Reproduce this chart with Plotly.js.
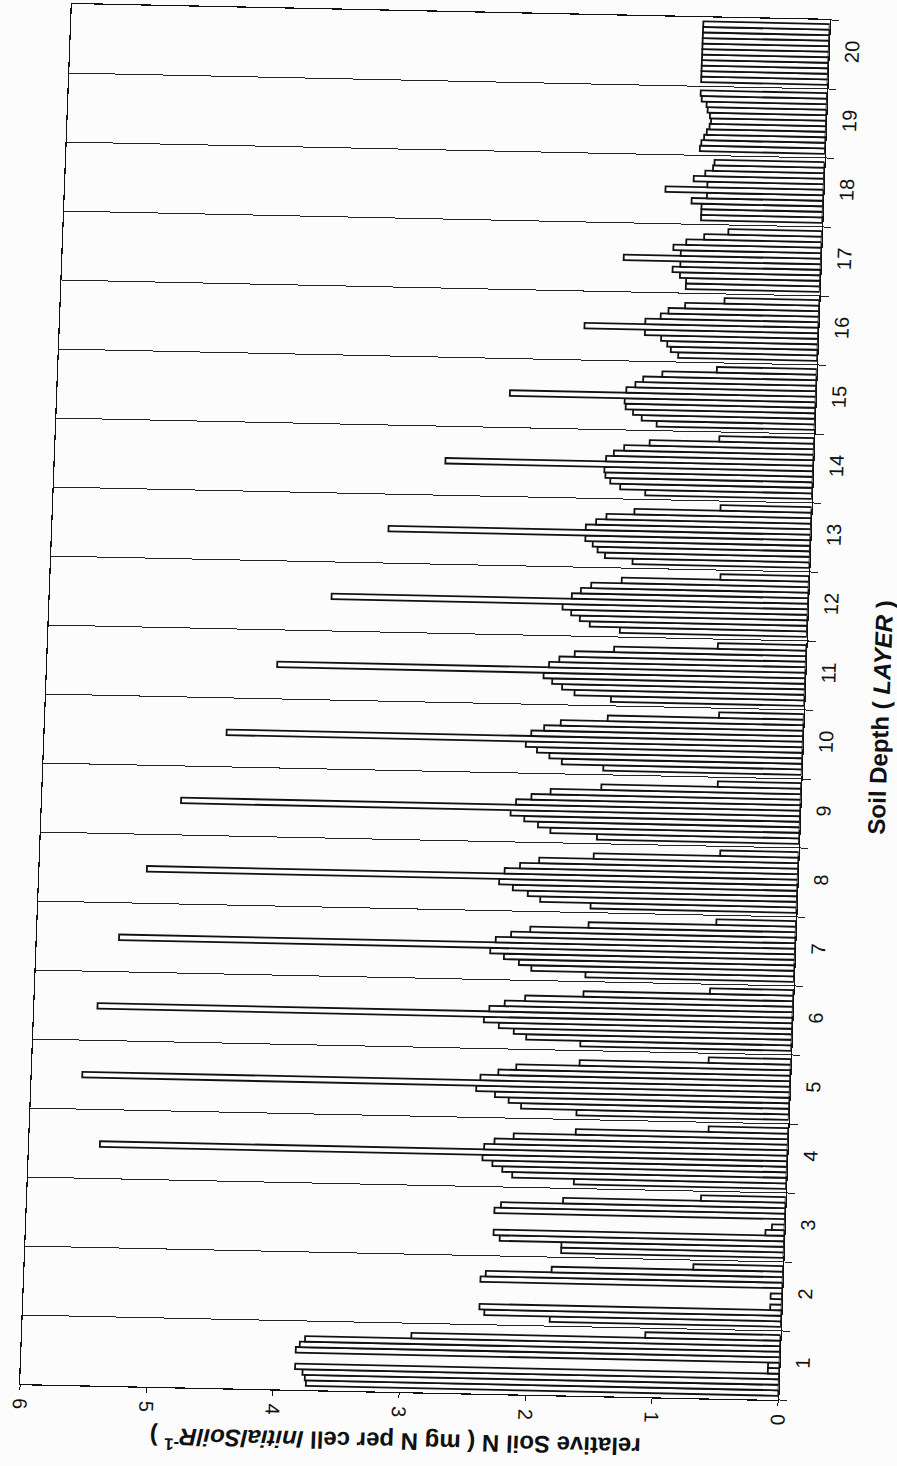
<!DOCTYPE html>
<html>
<head>
<meta charset="utf-8">
<script src="https://cdn.plot.ly/plotly-3.0.1.min.js"></script>
<style>
  html, body { margin: 0; padding: 0; background: #fcfcfc; overflow: hidden; }
  #chart { width: 897px; height: 1466px;
           transform-origin: 424.75px 702px;
           transform: matrix(1, 0.021, -0.0375, 1, 0, 0); }
</style>
</head>
<body>
<div id="chart"></div>
<script>
// Soil depth layers (category axis) and value ticks
const layers = [1, 2, 3, 4, 5, 6, 7, 8, 9, 10, 11, 12, 13, 14, 15, 16, 17, 18, 19, 20];
const valueTicks = [0, 1, 2, 3, 4, 5, 6];

// relative Soil N for the 11 cells of each layer (cell 1 drawn lowest, cell 11 highest)
const layer1  = [3.74, 3.75, 3.77, 3.83, 0.09, 0.09, 3.83, 3.80, 3.76, 2.92, 1.07];
const layer2  = [1.83, 2.35, 2.39, 0.09, 0.00, 0.09, 0.00, 2.39, 2.35, 1.83, 0.71];
const layer3  = [1.76, 1.76, 2.25, 2.30, 0.15, 0.10, 0.00, 2.30, 2.25, 1.76, 0.67];
const layer4  = [1.68, 2.17, 2.25, 2.33, 2.41, 5.44, 2.40, 2.32, 2.17, 1.68, 0.63];
const layer5  = [1.68, 2.12, 2.22, 2.33, 2.48, 5.60, 2.45, 2.31, 2.17, 1.67, 0.65];
const layer6  = [1.67, 2.10, 2.20, 2.32, 2.44, 5.50, 2.40, 2.28, 2.12, 1.66, 0.66];
const layer7  = [1.65, 2.08, 2.18, 2.30, 2.41, 5.35, 2.37, 2.25, 2.10, 1.64, 0.63];
const layer8  = [1.63, 2.03, 2.13, 2.25, 2.36, 5.15, 2.32, 2.20, 2.05, 1.62, 0.62];
const layer9  = [1.60, 1.97, 2.07, 2.18, 2.29, 4.90, 2.25, 2.13, 1.98, 1.58, 0.66];
const layer10 = [1.57, 1.90, 2.00, 2.10, 2.19, 4.56, 2.15, 2.05, 1.92, 1.55, 0.67];
const layer11 = [1.53, 1.82, 1.92, 2.00, 2.07, 4.18, 2.03, 1.95, 1.83, 1.52, 0.70];
const layer12 = [1.48, 1.72, 1.80, 1.87, 1.94, 3.77, 1.87, 1.80, 1.72, 1.48, 0.70];
const layer13 = [1.40, 1.62, 1.68, 1.72, 1.78, 3.34, 1.78, 1.70, 1.62, 1.40, 0.72];
const layer14 = [1.32, 1.52, 1.60, 1.64, 1.65, 2.91, 1.64, 1.58, 1.50, 1.30, 0.75];
const layer15 = [1.25, 1.37, 1.44, 1.50, 1.51, 2.42, 1.50, 1.43, 1.37, 1.22, 0.79];
const layer16 = [1.10, 1.16, 1.19, 1.24, 1.37, 1.85, 1.37, 1.25, 1.19, 1.06, 0.75];
const layer17 = [1.06, 1.06, 1.11, 1.17, 1.11, 1.56, 1.11, 1.17, 1.07, 0.93, 0.74];
const layer18 = [0.96, 0.96, 0.96, 1.04, 0.92, 1.25, 0.92, 1.03, 0.94, 0.88, 0.87];
const layer19 = [0.99, 0.98, 0.96, 0.94, 0.92, 0.91, 0.92, 0.94, 0.95, 0.99, 1.00];
const layer20 = [1.00, 1.00, 1.00, 1.00, 1.00, 1.00, 1.00, 1.00, 1.00, 1.00, 1.00];

const layerRows = [layer1, layer2, layer3, layer4, layer5, layer6, layer7, layer8, layer9, layer10,
                   layer11, layer12, layer13, layer14, layer15, layer16, layer17, layer18, layer19, layer20];
const nCells = layer1.length;

const FONT = 'Liberation Sans, Arial, sans-serif';
const INK = '#111';

const traces = [];
for (let c = 0; c < nCells; c++) {
  traces.push({
    type: 'bar',
    orientation: 'h',
    y: layers,
    x: layerRows.map(r => r[c]),
    marker: { color: '#ffffff', line: { color: INK, width: 1.8 } },
    hoverinfo: 'skip',
    showlegend: false
  });
}

const layout = {
  width: 897,
  height: 1466,
  margin: { l: 46, r: 93, t: 12, b: 74 },
  paper_bgcolor: 'rgba(0,0,0,0)',
  plot_bgcolor: 'rgba(0,0,0,0)',
  barmode: 'group',
  bargap: 0.12,
  bargroupgap: 0,
  font: { family: FONT, color: INK },
  xaxis: {
    range: [6, 0],
    tickmode: 'array',
    tickvals: valueTicks,
    ticktext: valueTicks.map(String),
    tickangle: 90,
    ticks: 'outside',
    ticklen: 5,
    tickcolor: INK,
    ticklabelstandoff: 4,
    tickfont: { family: FONT, size: 20, color: INK },
    showgrid: false,
    zeroline: false,
    showline: true,
    linecolor: INK,
    linewidth: 1.2,
    mirror: true,
    fixedrange: true
  },
  yaxis: {
    side: 'right',
    range: [0.5, 20.5],
    tickmode: 'array',
    tickvals: layers,
    ticktext: layers.map(String),
    tickangle: -90,
    ticks: '',
    ticklabelstandoff: 5,
    tickfont: { family: FONT, size: 20, color: INK },
    showgrid: false,
    zeroline: false,
    showline: true,
    linecolor: INK,
    linewidth: 1.2,
    mirror: true,
    minor: {
      tick0: 0.5,
      dtick: 1,
      ticks: 'outside',
      ticklen: 8,
      tickcolor: '#222',
      tickwidth: 1,
      showgrid: true,
      gridcolor: '#222',
      gridwidth: 1
    },
    fixedrange: true
  },
  annotations: [
    {
      text: '<b>relative Soil N ( mg N per cell <i>InitialSoilR</i><sup>-1</sup> )</b>',
      xref: 'paper', yref: 'paper',
      x: 0.497, y: -0.0374,
      xanchor: 'center', yanchor: 'middle',
      textangle: 180,
      showarrow: false,
      font: { family: FONT, size: 24, color: INK }
    },
    {
      text: '<b>Soil Depth ( <i>LAYER</i> )</b>',
      xref: 'paper', yref: 'paper',
      x: 1.1016, y: 0.4957,
      xanchor: 'center', yanchor: 'middle',
      textangle: -90,
      showarrow: false,
      font: { family: FONT, size: 24, color: INK }
    }
  ]
};

Plotly.newPlot('chart', traces, layout, { displayModeBar: false, staticPlot: true });
</script>
</body>
</html>
